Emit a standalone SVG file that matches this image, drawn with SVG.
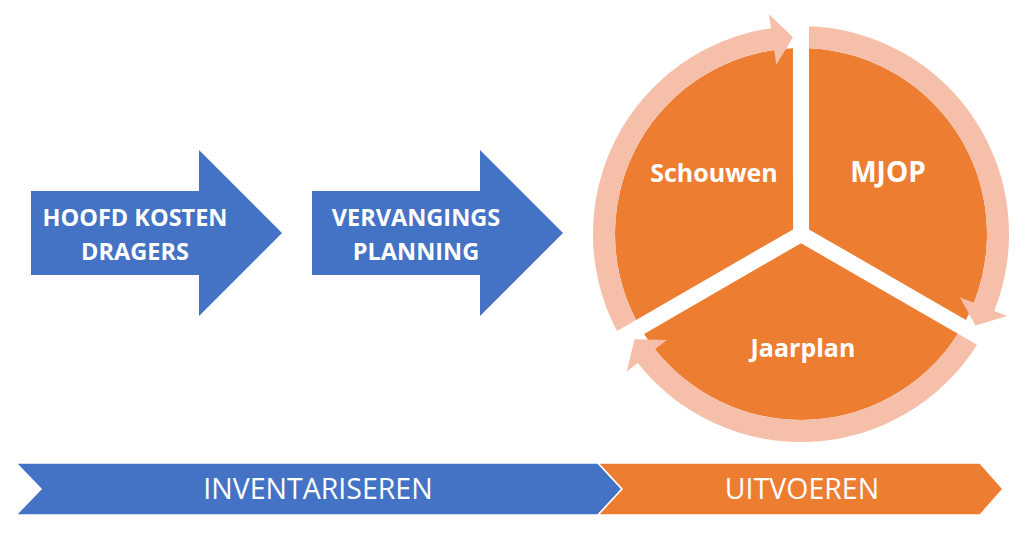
<svg xmlns="http://www.w3.org/2000/svg" xmlns:xlink="http://www.w3.org/1999/xlink" width="1024" height="535" viewBox="0 0 1024 535">
<style>
.blue{fill:#4472C4}
.orange{fill:#ED7D31}
.ring{fill:#F5BFA9}
.lbl{font-family:"Open Sans","Liberation Sans",sans-serif;font-weight:bold;fill:#fff;text-anchor:middle}
.band{font-family:"Open Sans","Liberation Sans",sans-serif;fill:#fff;text-anchor:middle;font-size:28.5px}
</style>
<defs>
<path id="sector" d="M809 229.38 L809.02 48.17 A186 186 0 0 1 965.96 319.93 Z"/>
<path id="ringArrow" d="M808.99 26.15 A208 208 0 0 1 994.26 310.91 L1007.27 316.08 L975.47 325.47 L959.88 297.23 L973.82 302.77 A186 186 0 0 0 809.02 48.17 Z"/>
</defs>
<rect width="1024" height="535" fill="#fff"/>

<g id="hoofd-kosten-dragers">
<polygon class="blue" points="31,191 199,191 199,150 282,233 199,316 199,275 31,275"/>
<text class="lbl" font-size="23.5" x="135" y="226">HOOFD KOSTEN</text>
<text class="lbl" font-size="23.5" x="135" y="260">DRAGERS</text>
</g>

<g id="vervangings-planning">
<polygon class="blue" points="312,191 480,191 480,150 563,233 480,316 480,275 312,275"/>
<text class="lbl" font-size="23.5" x="416" y="226">VERVANGINGS</text>
<text class="lbl" font-size="23.5" x="416" y="260">PLANNING</text>
</g>

<g id="mjop">
<use href="#sector" class="orange"/>
<text class="lbl" font-size="28" x="888" y="182">MJOP</text>
</g>
<g id="jaarplan">
<use href="#sector" class="orange" transform="rotate(120 801 234)"/>
<text class="lbl" font-size="25" x="803" y="357">Jaarplan</text>
</g>
<g id="schouwen">
<use href="#sector" class="orange" transform="rotate(240 801 234)"/>
<text class="lbl" font-size="25" x="714" y="182">Schouwen</text>
</g>

<g id="connectors">
<use href="#ringArrow" class="ring"/>
<use href="#ringArrow" class="ring" transform="rotate(120 801 234)"/>
<use href="#ringArrow" class="ring" transform="rotate(240 801 234)"/>
</g>

<g id="inventariseren">
<polygon class="blue" points="16,463 598,463 622,489 598,515 16,515 41,489" stroke="#fff" stroke-width="1.5"/>
<text class="band" x="318" y="499">INVENTARISEREN</text>
</g>
<g id="uitvoeren">
<polygon class="orange" points="598,463 980,463 1003,489 980,515 598,515 622,489" stroke="#fff" stroke-width="1.5"/>
<text class="band" x="802" y="499">UITVOEREN</text>
</g>
</svg>
